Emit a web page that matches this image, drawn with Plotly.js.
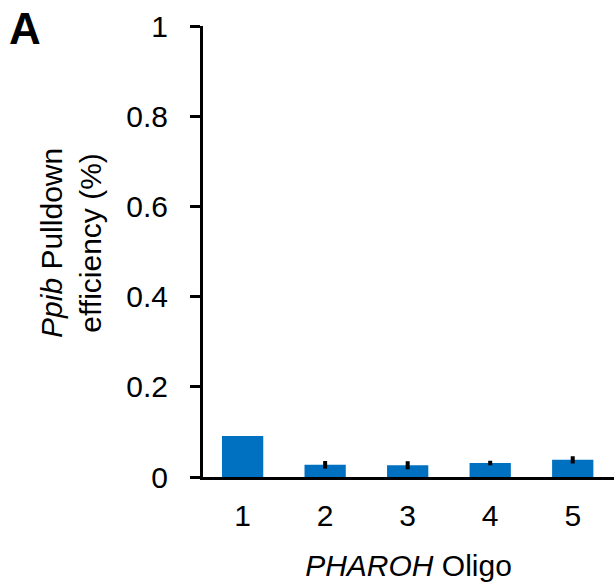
<!DOCTYPE html>
<html>
<head>
<meta charset="utf-8">
<script src="https://cdn.plot.ly/plotly-3.0.1.min.js"></script>
<style>
  html, body { margin: 0; padding: 0; background: #fff; }
  #chart { width: 614px; height: 586px; }
</style>
</head>
<body>
<div id="chart"></div>
<script>
// PHAROH oligo pulldown efficiency for Ppib
const oligos = [1, 2, 3, 4, 5];
const efficiency = [0.091, 0.027, 0.026, 0.031, 0.038];
const errors = [0, 0.0085, 0.009, 0.005, 0.008];
const yTicks = [0, 0.2, 0.4, 0.6, 0.8, 1];

const FONT = 'Arial, "Liberation Sans", sans-serif';

const trace = {
  type: 'bar',
  x: oligos,
  y: efficiency,
  width: 0.5,
  marker: { color: '#0070C0', line: { width: 0 } },
  error_y: {
    type: 'data',
    array: errors,
    visible: true,
    color: '#000000',
    thickness: 4,
    width: 0
  },
  hoverinfo: 'skip'
};

const layout = {
  width: 614,
  height: 586,
  margin: { l: 203, r: 0, t: 26, b: 109 },
  paper_bgcolor: '#ffffff',
  plot_bgcolor: '#ffffff',
  showlegend: false,
  font: { family: FONT, size: 30, color: '#000000' },
  xaxis: {
    range: [0.52, 5.5],
    tickvals: oligos,
    ticktext: oligos.map(String),
    ticks: '',
    ticklabelstandoff: 10,
    showgrid: false,
    zeroline: false,
    showline: true,
    linecolor: '#000000',
    linewidth: 3,
    tickfont: { family: FONT, size: 30, color: '#000000' },
    title: {
      text: '<i>PHAROH</i> Oligo',
      font: { family: FONT, size: 30, color: '#000000' },
      standoff: 24
    },
    fixedrange: true
  },
  yaxis: {
    range: [0, 1],
    tickvals: yTicks,
    ticks: 'outside',
    ticklen: 10,
    tickwidth: 3,
    tickcolor: '#000000',
    ticklabelstandoff: 16,
    showgrid: false,
    zeroline: false,
    showline: true,
    linecolor: '#000000',
    linewidth: 3,
    tickfont: { family: FONT, size: 30, color: '#000000' },
    fixedrange: true
  },
  annotations: [
    {
      // y-axis title, two rotated lines
      text: '<i>Ppib</i> Pulldown<br>efficiency (%)',
      xref: 'paper', yref: 'paper',
      x: -0.32, y: 0.52,
      xanchor: 'center', yanchor: 'middle',
      textangle: -90,
      showarrow: false,
      font: { family: FONT, size: 30, color: '#000000' }
    },
    {
      text: '<b>A</b>',
      xref: 'paper', yref: 'paper',
      x: -196 / 411, y: 0.994,
      xanchor: 'left', yanchor: 'middle',
      showarrow: false,
      font: { family: FONT, size: 44, color: '#000000' }
    }
  ]
};

Plotly.newPlot('chart', [trace], layout, { staticPlot: true, displayModeBar: false });
</script>
</body>
</html>
